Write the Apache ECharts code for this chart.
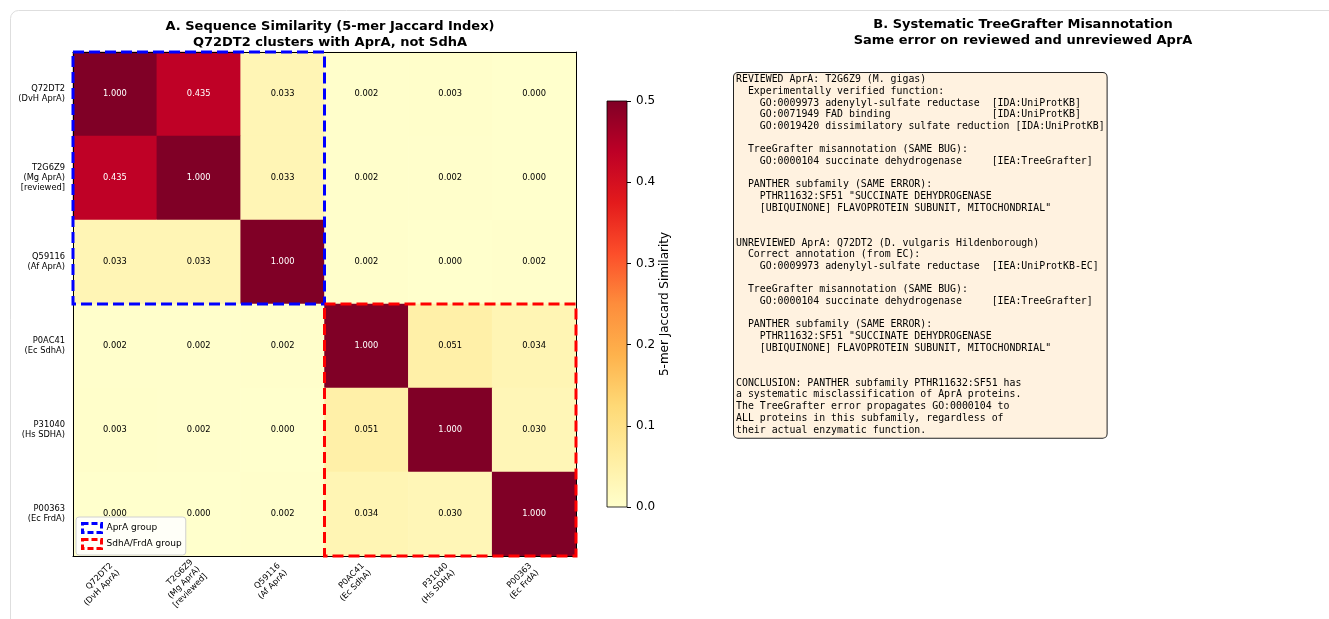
<!DOCTYPE html>
<html>
<head>
<meta charset="utf-8">
<script src="https://cdn.jsdelivr.net/npm/echarts@6/dist/echarts.min.js"></script>
<style>
  html, body { margin: 0; padding: 0; background: #fff; }
  #chart { width: 1329px; height: 619px; }
</style>
</head>
<body>
<div id="chart"></div>
<script>
// ---------- data ----------
const proteins = [
  "Q72DT2\n(DvH AprA)",
  "T2G6Z9\n(Mg AprA)\n[reviewed]",
  "Q59116\n(Af AprA)",
  "P0AC41\n(Ec SdhA)",
  "P31040\n(Hs SDHA)",
  "P00363\n(Ec FrdA)"
];
const row0 = [1.000, 0.435, 0.033, 0.002, 0.003, 0.000];
const row1 = [0.435, 1.000, 0.033, 0.002, 0.002, 0.000];
const row2 = [0.033, 0.033, 1.000, 0.002, 0.000, 0.002];
const row3 = [0.002, 0.002, 0.002, 1.000, 0.051, 0.034];
const row4 = [0.003, 0.002, 0.000, 0.051, 1.000, 0.030];
const row5 = [0.000, 0.000, 0.002, 0.034, 0.030, 1.000];
const matrix = [row0, row1, row2, row3, row4, row5];

const groupNames = ["AprA group", "SdhA/FrdA group"];
const groupStart = [0, 3];
const groupEnd = [2, 5];

const colorbarTicks = [0.0, 0.1, 0.2, 0.3, 0.4, 0.5];
const cbMin = 0, cbMax = 0.5;

const titleA = "A. Sequence Similarity (5-mer Jaccard Index)\nQ72DT2 clusters with AprA, not SdhA";
const titleB = "B. Systematic TreeGrafter Misannotation\nSame error on reviewed and unreviewed AprA";
const colorbarLabel = "5-mer Jaccard Similarity";

const boxLines = [
  "REVIEWED AprA: T2G6Z9 (M. gigas)",
  "  Experimentally verified function:",
  "    GO:0009973 adenylyl-sulfate reductase  [IDA:UniProtKB]",
  "    GO:0071949 FAD binding                 [IDA:UniProtKB]",
  "    GO:0019420 dissimilatory sulfate reduction [IDA:UniProtKB]",
  "",
  "  TreeGrafter misannotation (SAME BUG):",
  "    GO:0000104 succinate dehydrogenase     [IEA:TreeGrafter]",
  "",
  "  PANTHER subfamily (SAME ERROR):",
  "    PTHR11632:SF51 \"SUCCINATE DEHYDROGENASE",
  "    [UBIQUINONE] FLAVOPROTEIN SUBUNIT, MITOCHONDRIAL\"",
  "",
  "",
  "UNREVIEWED AprA: Q72DT2 (D. vulgaris Hildenborough)",
  "  Correct annotation (from EC):",
  "    GO:0009973 adenylyl-sulfate reductase  [IEA:UniProtKB-EC]",
  "",
  "  TreeGrafter misannotation (SAME BUG):",
  "    GO:0000104 succinate dehydrogenase     [IEA:TreeGrafter]",
  "",
  "  PANTHER subfamily (SAME ERROR):",
  "    PTHR11632:SF51 \"SUCCINATE DEHYDROGENASE",
  "    [UBIQUINONE] FLAVOPROTEIN SUBUNIT, MITOCHONDRIAL\"",
  "",
  "",
  "CONCLUSION: PANTHER subfamily PTHR11632:SF51 has",
  "a systematic misclassification of AprA proteins.",
  "The TreeGrafter error propagates GO:0000104 to",
  "ALL proteins in this subfamily, regardless of",
  "their actual enzymatic function."
];

// ---------- styles ----------
const ylOrRd = ["#ffffcc", "#ffeda0", "#fed976", "#feb24c", "#fd8d3c", "#fc4e2a", "#e31a1c", "#bd0026", "#800026"];
const groupColors = ["#0000ff", "#ff0000"];
const FONT = "DejaVu Sans";
const SMALL = 8.3;

const heatData = [];
matrix.forEach((row, r) => row.forEach((v, c) => {
  heatData.push({ value: [c, r, v], label: { color: v > 0.25 ? "#ffffff" : "#000000" } });
}));

const chart = echarts.init(document.getElementById("chart"), null, { renderer: "canvas" });

function groupRect(color) {
  return function (params, api) {
    const s = api.value(0), e = api.value(1);
    const p0 = api.coord([s, s]);
    const p1 = api.coord([e, e]);
    const sz = api.size([1, 1]);
    return {
      type: "rect",
      shape: { x: p0[0] - sz[0] / 2, y: p0[1] - sz[1] / 2, width: p1[0] - p0[0] + sz[0], height: p1[1] - p0[1] + sz[1] },
      style: { fill: "none", stroke: color, lineWidth: 3, lineDash: [11, 5] },
      z2: 10
    };
  };
}

const axisBlack = { lineStyle: { color: "#000", width: 1 } };

const option = {
  backgroundColor: "#fff",
  animation: false,
  textStyle: { fontFamily: FONT },
  graphic: [
    {
      type: "rect", left: 10, top: 10, z: -10,
      shape: { width: 1400, height: 700, r: 8 },
      style: { fill: "#fff", stroke: "#dedede", lineWidth: 1 }
    },
    {
      type: "text", left: 733, top: 72, z: 10,
      style: {
        text: boxLines.join("\n"),
        font: '9.9px "DejaVu Sans Mono"',
        fill: "#000",
        lineHeight: 11.67,
        backgroundColor: "#fff2e0",
        borderColor: "#222",
        borderWidth: 1,
        borderRadius: 4,
        padding: [1, 2, 2, 2]
      }
    }
  ],
  title: [
    {
      text: titleA, left: 325, top: 14, textAlign: "center",
      textStyle: { fontFamily: FONT, fontSize: 13, fontWeight: "bold", color: "#000", lineHeight: 16 }
    },
    {
      text: titleB, left: 1018, top: 12, textAlign: "center",
      textStyle: { fontFamily: FONT, fontSize: 13, fontWeight: "bold", color: "#000", lineHeight: 15.5 }
    }
  ],
  legend: {
    orient: "vertical", left: 76, top: 517,
    selectedMode: false,
    backgroundColor: "rgba(255,255,255,0.85)",
    borderColor: "#d0d0d0", borderWidth: 1, borderRadius: 3,
    padding: [5, 4, 5, 5], itemGap: 4,
    itemWidth: 19, itemHeight: 9,
    textStyle: { fontFamily: FONT, fontSize: 9, color: "#000" },
    data: groupNames.map((n, i) => ({
      name: n, icon: "rect",
      itemStyle: { color: "rgba(255,255,255,0)", borderColor: groupColors[i], borderWidth: 3, borderType: [6, 3] }
    }))
  },
  visualMap: {
    show: false, type: "continuous", seriesIndex: 0, dimension: 2,
    min: cbMin, max: cbMax, inRange: { color: ylOrRd }
  },
  grid: [
    { left: 73, top: 52, width: 503, height: 504 },
    { left: 607, top: 101, width: 20, height: 406 }
  ],
  xAxis: [
    {
      type: "category", gridIndex: 0, data: proteins, position: "bottom", z: 3,
      axisLine: axisBlack,
      axisTick: { alignWithLabel: true, length: 4, lineStyle: { color: "#000" } },
      axisLabel: { interval: 0, rotate: 45, fontFamily: FONT, fontSize: SMALL, color: "#000", margin: 12, lineHeight: 10, align: "right" },
      splitLine: { show: false }
    },
    {
      type: "category", gridIndex: 0, data: proteins, position: "top", z: 3,
      axisLine: axisBlack, axisTick: { show: false }, axisLabel: { show: false }
    },
    {
      type: "category", gridIndex: 1, data: [""], show: false
    }
  ],
  yAxis: [
    {
      type: "category", gridIndex: 0, data: proteins, inverse: true, position: "left", z: 3,
      axisLine: axisBlack,
      axisTick: { alignWithLabel: true, length: 4, lineStyle: { color: "#000" } },
      axisLabel: { interval: 0, fontFamily: FONT, fontSize: SMALL, color: "#000", margin: 8, lineHeight: 10, align: "right", padding: [5, 0, 0, 0] },
      splitLine: { show: false }
    },
    {
      type: "category", gridIndex: 0, data: proteins, inverse: true, position: "right", z: 3,
      axisLine: axisBlack, axisTick: { show: false }, axisLabel: { show: false }
    },
    {
      type: "value", gridIndex: 1, position: "right", min: cbMin, max: cbMax, interval: 0.1,
      axisLine: { show: false },
      axisTick: { show: true, length: 4, lineStyle: { color: "#000" } },
      axisLabel: { fontFamily: FONT, fontSize: 12, color: "#000", margin: 9, formatter: v => v.toFixed(1) },
      splitLine: { show: false },
      name: colorbarLabel, nameLocation: "middle", nameRotate: 90, nameGap: 31,
      nameTextStyle: { fontFamily: FONT, fontSize: 12, color: "#000" }
    }
  ],
  series: [
    {
      type: "heatmap", xAxisIndex: 0, yAxisIndex: 0,
      data: heatData,
      itemStyle: { borderWidth: 0 },
      label: { show: true, fontFamily: FONT, fontSize: SMALL, formatter: p => p.value[2].toFixed(3) },
      emphasis: { disabled: true }
    },
    {
      name: groupNames[0], type: "custom", xAxisIndex: 0, yAxisIndex: 0, z: 5,
      renderItem: groupRect(groupColors[0]),
      itemStyle: { color: groupColors[0] },
      data: [[groupStart[0], groupEnd[0]]], silent: true
    },
    {
      name: groupNames[1], type: "custom", xAxisIndex: 0, yAxisIndex: 0, z: 6,
      renderItem: groupRect(groupColors[1]),
      itemStyle: { color: groupColors[1] },
      data: [[groupStart[1], groupEnd[1]]], silent: true
    },
    {
      type: "custom", xAxisIndex: 2, yAxisIndex: 2, silent: true,
      data: [[0, cbMin, cbMax]],
      encode: { x: 0, y: [1, 2] },
      renderItem: function (params, api) {
        const lo = api.coord([0, api.value(1)]);
        const hi = api.coord([0, api.value(2)]);
        const w = api.size([1, 0])[0];
        return {
          type: "rect",
          shape: { x: lo[0] - w / 2, y: hi[1], width: w, height: lo[1] - hi[1] },
          style: {
            fill: new echarts.graphic.LinearGradient(0, 1, 0, 0,
              ylOrRd.map((c, i) => ({ offset: i / (ylOrRd.length - 1), color: c }))),
            stroke: "#000", lineWidth: 0.8
          }
        };
      }
    }
  ]
};
chart.setOption(option);
</script>
</body>
</html>
